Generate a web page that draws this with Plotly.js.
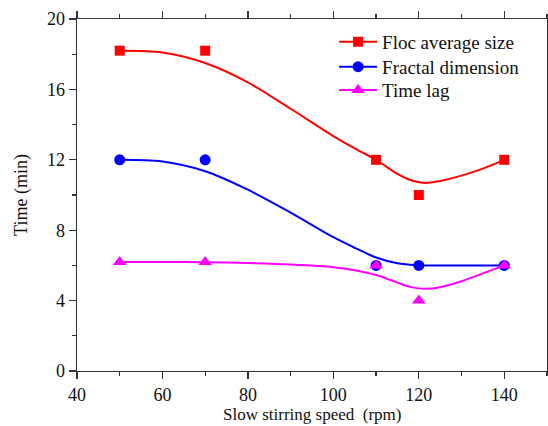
<!DOCTYPE html>
<html><head><meta charset="utf-8">
<script src="https://cdn.plot.ly/plotly-3.0.1.min.js"></script>
<style>html,body{margin:0;padding:0;background:#fff}#chart{width:548px;height:426px}</style>
</head><body><div id="chart"></div>
<script>
// measured points
const speed = [50, 70, 110, 120, 140];
const flocSize = [18.2, 18.2, 12, 10, 12];
const fractalDim = [12, 12, 6, 6, 6];
const timeLag = [6.2, 6.2, 6, 4, 6];
// fitted curves
const curveX = [50, 60, 70, 80, 90, 100, 105, 110, 115, 118, 121.5, 125, 130, 135, 140];
const flocCurve = [18.2, 18.1, 17.5, 16.4, 14.9, 13.35, 12.65, 12.0, 11.2, 10.85, 10.68, 10.8, 11.1, 11.5, 12.0];
const fractalCurve = [12.0, 11.9, 11.35, 10.3, 9.0, 7.6, 7.0, 6.45, 6.12, 6.03, 6.0, 6.0, 6.0, 6.0, 6.0];
const lagCurve = [6.2, 6.2, 6.18, 6.13, 6.05, 5.9, 5.72, 5.45, 5.02, 4.78, 4.67, 4.76, 5.1, 5.55, 6.0];
const xTicks = [40, 60, 80, 100, 120, 140];
const yTicks = [0, 4, 8, 12, 16, 20];
const names = ['Floc average size', 'Fractal dimension', 'Time lag'];
const colors = ['#ff0000', '#0000ff', '#ff00ff'];
const symbols = ['square', 'circle', 'triangle-up'];
const msizes = [10, 11, 12];
const pts = [flocSize, fractalDim, timeLag];
const curves = [flocCurve, fractalCurve, lagCurve];
const legendIds = ['legend', 'legend2', 'legend3'];

const traces = [];
for (let i = 0; i < 3; i++) {
  traces.push({x: curveX, y: curves[i], mode: 'lines', line: {color: colors[i], width: 2, shape: 'spline', smoothing: 0.9}, showlegend: false, hoverinfo: 'skip'});
}
for (let i = 0; i < 3; i++) {
  traces.push({x: speed, y: pts[i], mode: 'markers', marker: {color: colors[i], symbol: symbols[i], size: msizes[i]}, showlegend: false});
}
for (let i = 0; i < 3; i++) {
  traces.push({x: [null], y: [null], name: names[i], legend: legendIds[i], mode: 'lines+markers', line: {color: colors[i], width: 2}, marker: {color: colors[i], symbol: symbols[i], size: msizes[i]}});
}
const fam = 'Liberation Serif';
const font = {family: fam, color: '#111', size: 18};
const axisCommon = {showgrid: false, zeroline: false, showline: true, linecolor: '#333', linewidth: 1.4, mirror: 'ticks', ticks: 'outside', ticklen: 7, tickwidth: 1.2, tickcolor: '#333', tickfont: {family: fam, size: 18, color: '#111'}};
const legBase = {xanchor: 'left', yanchor: 'top', bgcolor: 'rgba(0,0,0,0)', font: {family: fam, size: 19, color: '#111'}, itemwidth: 38};
const layout = {
  width: 548, height: 426,
  margin: {l: 77, r: 1, t: 19, b: 55},
  paper_bgcolor: '#fff', plot_bgcolor: '#fff',
  font: font,
  xaxis: Object.assign({}, axisCommon, {range: [40, 150], tickvals: xTicks, minor: {ticks: 'outside', tickvals: [50, 70, 90, 110, 130, 150], ticklen: 4, tickcolor: '#333'}}),
  yaxis: Object.assign({}, axisCommon, {range: [0, 20], tickvals: yTicks, minor: {ticks: 'outside', tickvals: [2, 6, 10, 14, 18], ticklen: 4, tickcolor: '#333'}, title: {text: 'Time (min)', font: {family: fam, size: 18, color: '#111'}, standoff: 14}}),
  annotations: [
    {text: 'Slow stirring speed\u00a0\u00a0(rpm)', xref: 'paper', yref: 'paper', x: 0.5, y: -0.1225, xanchor: 'center', yanchor: 'middle', borderpad: 0, showarrow: false, font: {family: fam, size: 17, color: '#111'}}
  ],
  legend: Object.assign({}, legBase, {x: 0.547, y: 0.989}),
  legend2: Object.assign({}, legBase, {x: 0.547, y: 0.918}),
  legend3: Object.assign({}, legBase, {x: 0.547, y: 0.852}),
  showlegend: true
};
Plotly.newPlot('chart', traces, layout, {displayModeBar: false, staticPlot: true});
</script></body></html>
